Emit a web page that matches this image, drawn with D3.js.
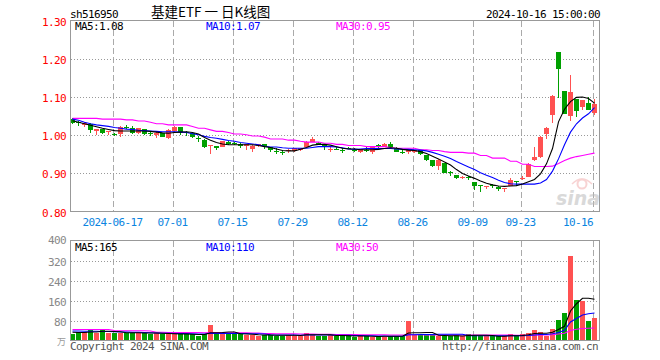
<!DOCTYPE html>
<html><head><meta charset="utf-8">
<script src="https://cdn.jsdelivr.net/npm/d3@7"></script>
<style>body{margin:0;background:#fff}svg{display:block}</style>
</head><body><svg id="c" width="660" height="360"></svg>
<script>
const dates = ["2024-06-05","2024-06-06","2024-06-07","2024-06-11","2024-06-12","2024-06-13","2024-06-14","2024-06-17","2024-06-18","2024-06-19","2024-06-20","2024-06-21","2024-06-24","2024-06-25","2024-06-26","2024-06-27","2024-06-28",
"2024-07-01","2024-07-02","2024-07-03","2024-07-04","2024-07-05","2024-07-08","2024-07-09","2024-07-10","2024-07-11","2024-07-12","2024-07-15","2024-07-16","2024-07-17","2024-07-18","2024-07-19","2024-07-22","2024-07-23","2024-07-24","2024-07-25","2024-07-26","2024-07-29","2024-07-30","2024-07-31",
"2024-08-01","2024-08-02","2024-08-05","2024-08-06","2024-08-07","2024-08-08","2024-08-09","2024-08-12","2024-08-13","2024-08-14","2024-08-15","2024-08-16","2024-08-19","2024-08-20","2024-08-21","2024-08-22","2024-08-23","2024-08-26","2024-08-27","2024-08-28","2024-08-29","2024-08-30",
"2024-09-02","2024-09-03","2024-09-04","2024-09-05","2024-09-06","2024-09-09","2024-09-10","2024-09-11","2024-09-12","2024-09-13","2024-09-18","2024-09-19","2024-09-20","2024-09-23","2024-09-24","2024-09-25","2024-09-26","2024-09-27","2024-09-30",
"2024-10-08","2024-10-09","2024-10-10","2024-10-11","2024-10-14","2024-10-15","2024-10-16"];

const open = [1.043,1.034,1.027,1.030,1.012,1.015,1.008,1.003,1.002,1.021, 1.018,1.006,1.016,1.006,1.000,1.005,0.992,1.011,1.021,1.009, 1.005,0.993,0.988,0.972,0.971,0.970,0.983,0.979,0.978,0.972, 0.964,0.973,0.976,0.969,0.959,0.956,0.959,0.959,0.962,0.970, 0.982,0.980,0.976,0.963,0.965,0.962,0.967,0.962,0.957,0.962, 0.957,0.975,0.969,0.978,0.967,0.956,0.955,0.957,0.961,0.948, 0.935,0.920,0.927,0.904,0.896,0.889,0.891,0.877,0.869,0.865, 0.869,0.865,0.858,0.868,0.881,0.886,0.891,0.934,0.942,1.003, 1.053,1.218,1.116,1.049,1.094,1.075,1.085,1.059];
const high = [1.045,1.036,1.035,1.031,1.016,1.016,1.011,1.007,1.024,1.027, 1.024,1.020,1.017,1.010,1.008,1.006,1.016,1.024,1.022,1.010, 1.006,0.998,0.989,0.975,0.972,0.985,0.984,0.981,0.979,0.977, 0.975,0.978,0.977,0.970,0.966,0.962,0.964,0.967,0.967,0.984, 0.994,0.983,0.977,0.970,0.970,0.966,0.968,0.967,0.964,0.968, 0.969,0.976,0.979,0.982,0.968,0.960,0.962,0.962,0.962,0.949, 0.936,0.937,0.928,0.905,0.897,0.893,0.892,0.878,0.869,0.867, 0.871,0.867,0.863,0.887,0.881,0.892,0.926,0.968,0.997,1.022, 1.104,1.218,1.117,1.158,1.095,1.093,1.101,1.096];
const low = [1.029,1.024,1.022,1.005,1.001,1.003,1.001,0.997,0.995,1.016, 1.003,1.004,1.001,0.999,0.993,0.994,0.991,1.009,1.001,0.998, 0.993,0.983,0.966,0.950,0.962,0.969,0.975,0.975,0.966,0.962, 0.955,0.969,0.963,0.955,0.950,0.948,0.953,0.957,0.958,0.969, 0.981,0.976,0.962,0.955,0.960,0.953,0.965,0.955,0.953,0.955, 0.950,0.962,0.968,0.968,0.955,0.951,0.951,0.953,0.948,0.933, 0.917,0.910,0.900,0.892,0.886,0.886,0.883,0.857,0.852,0.860, 0.862,0.855,0.852,0.867,0.867,0.884,0.890,0.933,0.941,0.991, 1.033,1.097,1.055,1.036,1.047,1.067,1.065,1.052];
const close = [1.031,1.031,1.033,1.014,1.015,1.007,1.010,1.002,1.021,1.020, 1.006,1.019,1.003,1.005,1.007,0.996,1.013,1.021,1.009,1.005, 0.996,0.992,0.970,0.974,0.966,0.984,0.977,0.978,0.973,0.976, 0.973,0.977,0.972,0.960,0.958,0.955,0.960,0.966,0.966,0.983, 0.989,0.979,0.968,0.964,0.964,0.961,0.966,0.961,0.963,0.961, 0.968,0.970,0.978,0.969,0.957,0.955,0.961,0.961,0.951,0.935, 0.920,0.936,0.902,0.902,0.888,0.890,0.887,0.866,0.868,0.866, 0.868,0.859,0.862,0.882,0.880,0.887,0.925,0.944,0.996,1.018, 1.103,1.174,1.056,1.113,1.064,1.092,1.066,1.082];

const ma5 = [1.038,1.034,1.030,1.026,1.022,1.018,1.015,1.012,1.011,1.011, 1.011,1.011,1.011,1.010,1.008,1.006,1.005,1.007,1.008,1.009, 1.007,1.003,0.994,0.987,0.981,0.977,0.975,0.975,0.975,0.975, 0.975,0.973,0.970,0.968,0.964,0.960,0.959,0.959,0.963,0.968, 0.974,0.976,0.976,0.974,0.970,0.966,0.964,0.964,0.962,0.962, 0.962,0.963,0.965,0.967,0.966,0.963,0.961,0.960,0.957,0.952, 0.945,0.938,0.930,0.922,0.910,0.900,0.893,0.887,0.880,0.874, 0.870,0.867,0.866,0.867,0.868,0.872,0.878,0.884,0.899,0.925, 0.965,1.035,1.068,1.088,1.099,1.100,1.096,1.084];
const ma10 = [1.042,1.039,1.034,1.030,1.027,1.025,1.023,1.020,1.018,1.016, 1.015,1.013,1.012,1.011,1.010,1.009,1.009,1.009,1.008,1.007, 1.004,1.001,0.997,0.994,0.992,0.989,0.986,0.984,0.981,0.979, 0.977,0.975,0.971,0.969,0.969,0.967,0.966,0.966,0.966,0.966, 0.968,0.970,0.970,0.970,0.969,0.967,0.964,0.963,0.964,0.965, 0.965,0.965,0.965,0.965,0.964,0.963,0.963,0.962,0.961,0.959, 0.955,0.950,0.945,0.939,0.931,0.924,0.917,0.910,0.902,0.895, 0.889,0.882,0.876,0.873,0.872,0.872,0.872,0.872,0.875,0.884, 0.906,0.938,0.975,1.008,1.030,1.045,1.056,1.072];
const ma30 = [1.044,1.044,1.044,1.044,1.044,1.042,1.042,1.042,1.042,1.040, 1.040,1.037,1.037,1.034,1.030,1.030,1.027,1.027,1.027,1.027, 1.023,1.018,1.018,1.014,1.010,1.010,1.007,1.003,1.003,1.001, 0.998,0.998,0.995,0.990,0.990,0.990,0.987,0.987,0.984,0.982, 0.982,0.982,0.979,0.979,0.976,0.976,0.973,0.973,0.973,0.970, 0.970,0.970,0.970,0.968,0.966,0.966,0.966,0.966,0.962,0.962, 0.960,0.960,0.957,0.955,0.955,0.955,0.953,0.953,0.947,0.947, 0.940,0.940,0.940,0.932,0.932,0.924,0.924,0.918,0.918,0.918, 0.919,0.926,0.934,0.940,0.944,0.947,0.950,0.953];

const volume = [27,33,33,44,32,42,32,30,31,30, 30,31,30,28,30,26,27,26,25,25, 25,20,25,61,26,30,27,25,27,23, 21,20,21,23,20,20,21,20,20,32, 22,20,20,22,17,21,21,13,17,17, 16,17,16,17,20,17,78,21,21,21, 21,20,17,17,21,17,28,21,17,17, 17,17,17,25,17,25,29,42,33,17, 45,81,110,338,164,157,80,92];
const volMa5 = [33,32,32,34,34,37,37,36,35,31, 31,31,30,30,30,29,28,27,26,26, 25,24,24,31,31,32,34,34,27,26, 25,23,22,22,21,21,21,21,20,23, 23,23,23,23,20,20,19,18,18,18, 17,16,17,17,17,17,30,31,31,32, 32,21,20,19,19,18,20,21,21,21, 20,17,17,19,19,20,23,28,29,29, 33,44,57,118,147,169,169,165];
const volMa10 = [38,38,37,37,37,36,36,35,34,34, 33,33,32,31,30,29,29,28,28,28, 27,26,26,29,28,28,28,28,28,28, 27,27,26,23,22,22,22,22,21,22, 22,22,22,22,21,21,21,20,20,19, 19,18,18,17,17,17,23,23,24,24, 24,25,25,25,25,25,19,19,19,19, 19,19,19,19,19,19,20,22,24,24, 27,32,41,74,88,102,107,110];
const volMa30 = [44,44,44,44,44,44,44,40,39,39, 39,39,39,38,33,33,32,32,32,32, 32,32,31,32,32,32,31,31,31,31, 30,30,28,28,27,27,27,27,26,26, 26,25,25,25,24,24,24,24,23,23, 23,23,23,22,22,22,23,23,23,22, 22,22,22,22,22,22,22,22,22,22, 22,22,22,22,21,21,21,22,22,22, 23,26,29,40,45,48,49,50];

const priceTicks = [0.8, 0.9, 1.0, 1.1, 1.2, 1.3];
const priceTickLabels = ["0.80","0.90","1.00","1.10","1.20","1.30"];
const volTicks = [80, 160, 240, 320, 400];
const dateTicks = ["2024-06-17","2024-07-01","2024-07-15","2024-07-29","2024-08-12","2024-08-26","2024-09-09","2024-09-23","2024-10-16"];
const dateTickLabels = ["2024-06-17","07-01","07-15","07-29","08-12","08-26","09-09","09-23","10-16"];
const titleCode = "sh516950";
const titleText = "基建ETF 一 日K线图";
const stamp = "2024-10-16 15:00:00";
const priceMaLabels = ["MA5:1.08","MA10:1.07","MA30:0.95"];
const volMaLabels = ["MA5:165","MA10:110","MA30:50"];

const RED = "#ff5151", GREEN = "#00a000";
const MONO = "'DejaVu Sans Mono', monospace";
const svg = d3.select("#c");

const x = d3.scaleBand().domain(dates).range([69.5, 597.5]);
const cx = d => x(d) + x.bandwidth() / 2;
const yP = d3.scaleLinear().domain([0.8, 1.3]).range([211.6, 20.6]);
const yV = d3.scaleLinear().domain([0, 400]).range([340.5, 240.5]);
const PL = 70.5, PR = 599.5, PT = 20.5, PB = 211.5, VT = 240.5, VB = 340.5;

function txt(g, s, xx, yy, opt) {
  const t = g.append("text").attr("x", xx).attr("y", yy).text(s)
    .attr("font-family", opt.font || MONO).attr("font-size", opt.size || 11)
    .attr("fill", opt.fill || "#000").attr("text-anchor", opt.anchor || "start");
  if (opt.ls !== undefined) t.attr("letter-spacing", opt.ls);
  return t;
}
const LS = "-0.62px";

// header
txt(svg, titleCode, 70, 17.5, {ls: LS});
txt(svg, titleText, 151, 17, {font: "'Noto Sans CJK SC', sans-serif", size: 13.5});
txt(svg, stamp, 600, 17.5, {anchor: "end", ls: LS});

// grids
function vgrid(top, bottom) {
  svg.append("g").selectAll("line").data(dateTicks).join("line")
    .attr("x1", d => Math.round(cx(d) - 2) + 0.5).attr("x2", d => Math.round(cx(d) - 2) + 0.5)
    .attr("y1", top).attr("y2", bottom)
    .attr("stroke", "#aaa").attr("stroke-dasharray", "6,3").attr("shape-rendering", "crispEdges");
}
vgrid(PT, PB); vgrid(VT, VB);

svg.append("g").selectAll("line").data(priceTicks.filter(t => t > 0.8 && t < 1.3)).join("line")
  .attr("x1", PL).attr("x2", PR).attr("y1", d => Math.round(yP(d)) + 0.5).attr("y2", d => Math.round(yP(d)) + 0.5)
  .attr("stroke", "#999").attr("stroke-dasharray", "1,2").attr("shape-rendering", "crispEdges");
svg.append("g").selectAll("line").data(volTicks.filter(t => t < 400)).join("line")
  .attr("x1", PL).attr("x2", PR).attr("y1", d => Math.round(yV(d)) + 0.5).attr("y2", d => Math.round(yV(d)) + 0.5)
  .attr("stroke", "#999").attr("stroke-dasharray", "1,2").attr("shape-rendering", "crispEdges");

// watermark
const wm = svg.append("g").attr("opacity", 0.55);
wm.append("circle").attr("cx", 582).attr("cy", 184).attr("r", 4.5).attr("fill", "none").attr("stroke", "#f3b0b0").attr("stroke-width", 2);
wm.append("path").attr("d", "M572,184 Q582,174 592,184").attr("fill", "none").attr("stroke", "#f3b0b0").attr("stroke-width", 1.5);
txt(wm, "sina", 578, 205, {font: "'DejaVu Sans', sans-serif", size: 19, fill: "#bbb", anchor: "middle"})
  .attr("font-style", "italic").attr("font-weight", "bold");

// candles
const idx = d3.range(dates.length);
const up = i => close[i] >= open[i];
const cg = svg.append("g").attr("shape-rendering", "crispEdges");
cg.selectAll("line").data(idx).join("line")
  .attr("x1", i => cx(dates[i])).attr("x2", i => cx(dates[i]))
  .attr("y1", i => yP(high[i])).attr("y2", i => yP(low[i]))
  .attr("stroke", i => up(i) ? RED : GREEN);
cg.selectAll("rect").data(idx).join("rect")
  .attr("x", i => cx(dates[i]) - 2.5).attr("width", 5)
  .attr("y", i => yP(Math.max(open[i], close[i])))
  .attr("height", i => Math.max(1, yP(Math.min(open[i], close[i])) - yP(Math.max(open[i], close[i]))))
  .attr("fill", i => up(i) ? RED : GREEN);

// MA lines
function maLine(data, yScale, color) {
  svg.append("path").datum(idx)
    .attr("d", d3.line().x(i => cx(dates[i])).y(i => yScale(data[i])))
    .attr("fill", "none").attr("stroke", color).attr("stroke-width", 1.1);
}
maLine(ma30, yP, "#ff00ff"); maLine(ma10, yP, "#0000ff"); maLine(ma5, yP, "#000");

// volume bars
svg.append("g").attr("shape-rendering", "crispEdges").selectAll("rect").data(idx).join("rect")
  .attr("x", i => cx(dates[i]) - 2.5).attr("width", 5)
  .attr("y", i => yV(volume[i])).attr("height", i => yV(0) - yV(volume[i]))
  .attr("fill", i => up(i) ? RED : GREEN);
maLine(volMa30, yV, "#ff00ff"); maLine(volMa10, yV, "#0000ff"); maLine(volMa5, yV, "#000");

// frames
[[PT, PB], [VT, VB]].forEach(([t, b]) => {
  svg.append("rect").attr("x", PL).attr("y", t).attr("width", PR - PL).attr("height", b - t)
    .attr("fill", "none").attr("stroke", "#999").attr("shape-rendering", "crispEdges");
});

// price axis labels
priceTicks.forEach((t, k) => {
  txt(svg, priceTickLabels[k], 66, Math.round(yP(t)) + 5, {anchor: "end", fill: "#ff0000", ls: LS});
});
// volume axis labels
volTicks.forEach(t => {
  const yy = t === 400 ? VT + 3.5 : Math.round(yV(t)) + 4.5;
  txt(svg, String(t), 66, yy, {anchor: "end", fill: "#888", ls: LS});
});
txt(svg, "万", 66, 345, {font: "'Noto Sans CJK SC', sans-serif", size: 9, fill: "#999", anchor: "end"});

// date labels
dateTicks.forEach((d, k) => {
  const last = k === dateTicks.length - 1;
  txt(svg, dateTickLabels[k], last ? Math.round(cx(d) - 2) : cx(d) - 2, 225.7,
      {anchor: last ? "end" : "middle", fill: "#0a84e0", ls: LS});
});

// MA legends
const maColors = ["#000", "#0000ff", "#ff00ff"];
const legX = [75, 206, 336];
priceMaLabels.forEach((s, k) => txt(svg, s, legX[k], 30, {fill: maColors[k], ls: LS}));
volMaLabels.forEach((s, k) => txt(svg, s, legX[k], 250.5, {fill: maColors[k], ls: LS}));

// footer
txt(svg, "Copyright 2024 SINA.COM", 70, 350, {fill: "#555", ls: LS});
txt(svg, "http://finance.sina.com.cn", 598, 350, {fill: "#555", anchor: "end", ls: LS});
</script></body></html>
